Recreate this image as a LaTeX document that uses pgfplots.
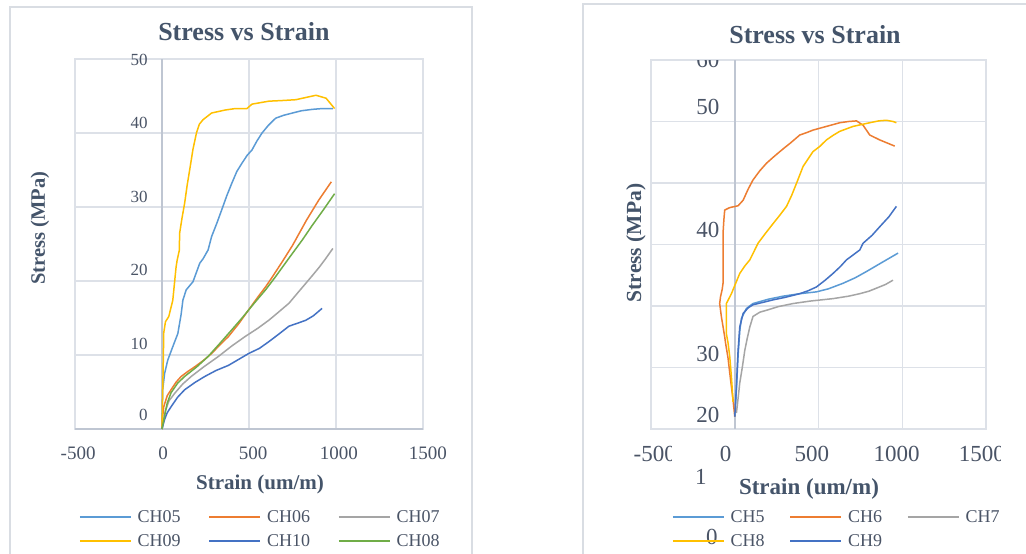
\documentclass[border=0pt]{standalone}
\usepackage{fontspec}
\setmainfont{Liberation Serif}
\usepackage{pgfplots}
\pgfplotsset{compat=1.18}
\definecolor{cA}{HTML}{5B9BD5}
\definecolor{cB}{HTML}{ED7D31}
\definecolor{cC}{HTML}{A5A5A5}
\definecolor{cD}{HTML}{FFC000}
\definecolor{cE}{HTML}{4472C4}
\definecolor{cF}{HTML}{70AD47}
\definecolor{gridc}{HTML}{DDE1E8}
\definecolor{axc}{HTML}{BFC6D2}
\definecolor{txt}{HTML}{44546A}
\definecolor{tickc}{HTML}{4A5466}
\definecolor{framec}{HTML}{D9DDE3}
\newcommand{\fs}[1]{\fontsize{#1pt}{#1pt}\selectfont}
\pgfplotsset{
  base/.style={
    scale only axis, anchor=south west, clip=false,
    xmin=-500, xmax=1500, xtick={-500,0,...,1500},
    xticklabels={,,,,,,,,}, yticklabels={,,,,,,,,}, major tick length=0pt,
    grid=major, grid style={gridc, line width=1.3pt},
    axis line style={gridc, line width=1.3pt},
    every axis plot/.append style={line width=1.5pt, no marks, line join=round},
    legend columns=3,
    legend image code/.code={\draw[##1, line width=1.5pt] (0pt,0pt) -- (51pt,0pt);},
  },
}
\begin{document}
\begin{tikzpicture}
\useasboundingbox[fill=white] (0pt,0pt) rectangle (1026pt,554pt);
\draw[framec, line width=1.2pt] (10pt,-3pt) -- (10pt,547pt) -- (472pt,547pt) -- (472pt,-3pt);
\draw[framec, line width=1.2pt] (583pt,-3pt) -- (583pt,550pt) -- (1030pt,550pt);

% ---------------- left chart ----------------
\begin{axis}[base,
  at={(75pt,125pt)}, width=348pt, height=370pt,
  ymin=0, ymax=50, ytick={0,10,...,50},
  legend style={at={(0.0115,-0.2216)}, anchor=north west, draw=none, fill=none,
    inner sep=0pt, outer sep=0pt, row sep=12pt, font=\fs{18}, text=tickc,
    nodes={inner sep=0pt, text height=12pt, text depth=0pt},
    /tikz/every odd column/.append style={column sep=6pt},
    /tikz/every even column/.append style={column sep=28pt},
    cells={anchor=west}},
]
\draw[axc, line width=1.6pt] (axis cs:-500,0) -- (axis cs:1500,0);
\draw[axc, line width=1.8pt] (axis cs:0,0) -- (axis cs:0,50);
\addplot[cA] coordinates {(0,0) (2,3) (4,5.3) (15,7.5) (33,9.3) (60,11) (91,12.9) (110,15.5) (120,17.4) (139,18.8) (178,19.9) (217,22.4) (236,23) (265,24.2) (285,26) (315,27.8) (343,29.6) (372,31.5) (401,33.2) (430,34.8) (459,35.9) (490,37) (517,37.7) (545,38.9) (575,40) (610,41) (653,42) (700,42.4) (750,42.7) (800,43) (866,43.2) (920,43.3) (982,43.3)};
\addlegendentry{CH05}
\addplot[cB] coordinates {(0,0) (3,1.5) (10,3) (30,4.5) (52,5.3) (80,6.3) (110,7.1) (150,7.8) (188,8.4) (240,9.3) (285,10.2) (330,11.3) (382,12.5) (440,14.2) (498,16.1) (550,17.8) (595,19.2) (630,20.4) (691,22.6) (750,24.8) (830,28.2) (900,30.9) (973,33.4)};
\addlegendentry{CH06}
\addplot[cC] coordinates {(0,0) (20,2.5) (40,3.8) (72,4.8) (120,6.1) (168,7.1) (240,8.4) (324,9.8) (400,11.2) (478,12.5) (550,13.6) (614,14.7) (670,15.8) (730,17) (780,18.4) (827,19.7) (870,20.9) (905,21.9) (940,23) (982,24.4)};
\addlegendentry{CH07}
\addplot[cD] coordinates {(0,0) (3,4) (5,6.2) (8,10) (10,13) (20,14.5) (39,15.2) (62,17.4) (81,21.9) (87,22.8) (100,24.2) (101,26.4) (115,28.5) (130,30.5) (145,33) (159,35) (178,37.8) (198,40) (215,41.2) (236,41.8) (285,42.7) (362,43.1) (420,43.3) (488,43.3) (517,43.9) (614,44.3) (700,44.4) (769,44.5) (827,44.8) (885,45.1) (943,44.7) (992,43.3)};
\addlegendentry{CH09}
\addplot[cE] coordinates {(0,0) (15,1.3) (30,2.2) (52,3) (90,4.3) (130,5.3) (190,6.3) (246,7.1) (310,7.9) (382,8.6) (440,9.4) (498,10.2) (560,10.9) (614,11.8) (670,12.8) (730,13.9) (780,14.3) (827,14.7) (870,15.3) (920,16.3)};
\addlegendentry{CH10}
\addplot[cF] coordinates {(0,0) (14,1.7) (30,3.5) (52,4.9) (90,6.2) (130,7.1) (200,8.4) (265,9.8) (330,11.5) (401,13.4) (460,15) (530,17) (595,18.8) (650,20.5) (730,23.1) (808,25.6) (860,27.4) (930,29.7) (992,31.8)};
\addlegendentry{CH08}
% tick labels
\begin{scope}[every node/.style={font=\fs{17}, text=tickc, inner sep=0pt, anchor=east}]
\node at (axis cs:-81,49.9) {50};
\node at (axis cs:-81,41.35) {40};
\node at (axis cs:-81,31.35) {30};
\node at (axis cs:-81,21.5) {20};
\node at (axis cs:-81,11.5) {10};
\node at (axis cs:-81,1.9) {0};
\end{scope}
\begin{scope}[every node/.style={font=\fs{19}, text=tickc, inner sep=0pt, anchor=center}]
\node at (axis cs:-482,-3.24) {-500};
\node at (axis cs:6,-3.24) {0};
\node at (axis cs:523,-3.24) {500};
\node at (axis cs:1017,-3.24) {1000};
\node at (axis cs:1528,-3.24) {1500};
\end{scope}
\end{axis}
\node[font=\fs{26}\bfseries, text=txt] at (244pt,522pt) {Stress vs Strain};
\node[font=\fs{21}\bfseries, text=txt] at (260pt,70pt) {Strain (um/m)};
\node[font=\fs{20.5}\bfseries, text=txt, rotate=90] at (40pt,326pt) {Stress (MPa)};

% ---------------- right chart ----------------
\begin{axis}[base,
  at={(651pt,125pt)}, width=335pt, height=369pt,
  ymin=0, ymax=60, ytick={0,10,...,60},
  axis line style={gridc, line width=1.3pt},
  legend style={at={(0.0627,-0.2222)}, anchor=north west, draw=none, fill=none,
    inner sep=0pt, outer sep=0pt, row sep=12pt, font=\fs{18}, text=tickc,
    nodes={inner sep=0pt, text height=12pt, text depth=0pt},
    /tikz/every odd column/.append style={column sep=6pt},
    /tikz/every even column/.append style={column sep=25pt},
    cells={anchor=west}},
]
\draw[axc, line width=1.8pt] (axis cs:0,0) -- (axis cs:0,60);
\addplot[cA] coordinates {(0,2) (10,6.5) (20,12) (30,16) (40,18) (70,19.6) (109,20.4) (200,21.1) (289,21.6) (388,22) (488,22.3) (560,22.8) (647,23.7) (720,24.6) (786,25.6) (880,27.1) (975,28.6)};
\addlegendentry{CH5}
\addplot[cB] coordinates {(0,2) (-10,4.7) (-25,8) (-40,11.5) (-55,14) (-60,15) (-80,18.3) (-90,20.4) (-85,21.5) (-75,22.7) (-70,23.7) (-70,27.5) (-70,31.8) (-65,34) (-60,35.6) (-30,36) (20,36.3) (50,37.2) (80,39) (109,40.5) (150,42) (189,43.2) (230,44.2) (269,45.1) (300,45.8) (328,46.4) (388,47.8) (430,48.2) (467,48.6) (547,49.2) (627,49.8) (680,50) (727,50.1) (766,49.4) (806,47.8) (866,47) (955,46)};
\addlegendentry{CH6}
\addplot[cC] coordinates {(10,2.6) (20,5) (30,7.5) (45,10) (60,12.8) (75,14.8) (90,16.6) (109,18.3) (150,19) (189,19.3) (260,19.9) (348,20.4) (450,20.8) (587,21.2) (680,21.6) (746,22) (800,22.4) (846,22.9) (900,23.5) (945,24.2)};
\addlegendentry{CH7}
\addplot[cD] coordinates {(-10,4.4) (-20,8.5) (-30,11.8) (-40,14) (-50,15.5) (-50,20.4) (-20,22) (30,25.3) (60,26.5) (90,27.5) (139,30.2) (180,31.7) (229,33.4) (270,34.8) (309,36.2) (340,38) (368,39.9) (408,42.7) (440,44) (467,45.1) (510,46) (547,47) (590,47.8) (627,48.4) (706,49.2) (806,49.8) (860,50.1) (905,50.2) (945,50) (965,49.8)};
\addlegendentry{CH8}
\addplot[cE] coordinates {(0,2) (10,6.9) (15,10) (20,12.8) (30,16.6) (50,18.8) (80,19.7) (109,20.2) (170,20.6) (229,21) (300,21.4) (388,22) (440,22.5) (488,23.1) (540,24.2) (587,25.3) (630,26.4) (667,27.5) (746,29.1) (766,30.2) (820,31.5) (866,32.9) (920,34.5) (965,36.2)};
\addlegendentry{CH9}
% tick labels
\begin{scope}[every node/.style={font=\fs{23}, text=tickc, inner sep=0pt, anchor=east}]
\begin{scope}
\clip (axis cs:-500,0) rectangle (axis cs:1500,60);
\node at (axis cs:-90,60) {60};
\end{scope}
\node at (axis cs:-90,52.4) {50};
\node at (axis cs:-90,32.4) {40};
\node at (axis cs:-90,12.2) {30};
\node at (axis cs:-90,2.3) {20};
\end{scope}
\begin{scope}[every node/.style={font=\fs{23}, text=tickc, inner sep=0pt, anchor=center}]
\node at (axis cs:-203,-7.8) {1};
\node at (axis cs:-137,-17.6) {0};
\begin{scope}
\clip (axis cs:-800,-8) rectangle (axis cs:-376,0);
\node at (axis cs:-478,-4.07) {-500};
\end{scope}
\node at (axis cs:-54,-4.07) {0};
\node at (axis cs:460,-4.07) {500};
\node at (axis cs:967,-4.07) {1000};
\begin{scope}
\clip (axis cs:1300,-8) rectangle (axis cs:1588,0);
\node at (axis cs:1475,-4.07) {1500};
\end{scope}
\end{scope}
\end{axis}
\node[font=\fs{26}\bfseries, text=txt] at (815pt,519pt) {Stress vs Strain};
\node[font=\fs{23}\bfseries, text=txt] at (809pt,65pt) {Strain (um/m)};
\node[font=\fs{21.5}\bfseries, text=txt, rotate=90] at (636pt,311pt) {Stress (MPa)};
\end{tikzpicture}
\end{document}
